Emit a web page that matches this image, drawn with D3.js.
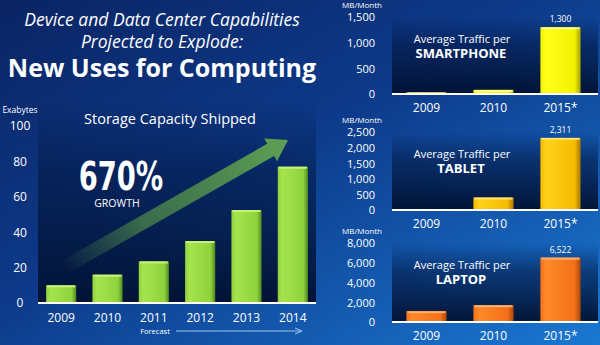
<!DOCTYPE html>
<html>
<head>
<meta charset="utf-8">
<script src="https://cdn.jsdelivr.net/npm/d3@7"></script>
<style>
  html, body { margin: 0; padding: 0; background: #0b2a6c; }
  svg { display: block; font-family: "Open Sans", "DejaVu Sans", sans-serif; }
</style>
</head>
<body>
<svg id="visualization" width="600" height="345"></svg>
<script>
// Storage capacity shipped, exabytes
const storageYears = ["2009", "2010", "2011", "2012", "2013", "2014"];
const storageExabytes = [10, 16, 23.5, 35, 52.5, 77];
const storageTicks = [0, 20, 40, 60, 80, 100];

// Average traffic per device, MB per month
const trafficYears = ["2009", "2010", "2015*"];
const smartphoneMB = [30, 80, 1300];
const tabletMB = [0, 400, 2311];
const laptopMB = [1100, 1700, 6522];
const smartphoneTicks = [0, 500, 1000, 1500];
const tabletTicks = [0, 500, 1000, 1500, 2000, 2500];
const laptopTicks = [0, 2000, 4000, 6000, 8000];

const svg = d3.select("#visualization");
const defs = svg.append("defs");

// Background: dark navy top-left to bright blue bottom-right
const bg = defs.append("linearGradient").attr("id", "bg")
  .attr("x1", "0").attr("y1", "0").attr("x2", "1").attr("y2", "1");
bg.append("stop").attr("offset", "0%").attr("stop-color", "#0a2463");
bg.append("stop").attr("offset", "45%").attr("stop-color", "#0d3a8a");
bg.append("stop").attr("offset", "100%").attr("stop-color", "#1a78d2");
svg.append("rect").attr("width", 600).attr("height", 345).attr("fill", "url(#bg)");

// Dark plot panels, fading in toward the axis
const panelGrad = defs.append("linearGradient").attr("id", "panel")
  .attr("x1", "0").attr("y1", "0").attr("x2", "0").attr("y2", "1");
panelGrad.append("stop").attr("offset", "0%").attr("stop-color", "#021640").attr("stop-opacity", 0);
panelGrad.append("stop").attr("offset", "35%").attr("stop-color", "#021640").attr("stop-opacity", 0.55);
panelGrad.append("stop").attr("offset", "100%").attr("stop-color", "#01102f").attr("stop-opacity", 0.95);

// Bar gradients: lit face with a darker right edge
function barGradient(id, light, mid, dark) {
  const g = defs.append("linearGradient").attr("id", id)
    .attr("x1", "0").attr("y1", "0").attr("x2", "1").attr("y2", "0");
  g.append("stop").attr("offset", "0%").attr("stop-color", mid);
  g.append("stop").attr("offset", "15%").attr("stop-color", light);
  g.append("stop").attr("offset", "85%").attr("stop-color", mid);
  g.append("stop").attr("offset", "100%").attr("stop-color", dark);
}
barGradient("green", "#a6e44f", "#8ed23c", "#4f8a1e");
barGradient("yellow", "#ffff1a", "#f2f200", "#a8a000");
barGradient("gold", "#ffd21a", "#f5bb00", "#a87800");
barGradient("orange", "#ff8a2a", "#f57018", "#a84808");

function drawBars(g, data, x, y, fill, top) {
  g.selectAll(".bar").data(data).enter().append("rect")
    .attr("x", d => x(d.year))
    .attr("y", d => y(d.value))
    .attr("width", x.bandwidth())
    .attr("height", d => y(0) - y(d.value))
    .attr("fill", `url(#${fill})`);
  // light top edge
  g.selectAll(".cap").data(data.filter(d => d.value > 0)).enter().append("rect")
    .attr("x", d => x(d.year) + 1)
    .attr("y", d => y(d.value))
    .attr("width", x.bandwidth() - 2)
    .attr("height", d => Math.min(2, y(0) - y(d.value)))
    .attr("fill", top);
}

// ---- Title ----
const title = svg.append("g").attr("fill", "white").attr("text-anchor", "middle");
title.append("text").attr("x", 162).attr("y", 26)
  .style("font-size", "17.5px").style("font-style", "italic")
  .text("Device and Data Center Capabilities");
title.append("text").attr("x", 162).attr("y", 48)
  .style("font-size", "17.5px").style("font-style", "italic")
  .text("Projected to Explode:");
title.append("text").attr("x", 162).attr("y", 77)
  .style("font-size", "25px").style("font-weight", "bold")
  .text("New Uses for Computing");

// ---- Storage capacity chart ----
const sx = d3.scaleBand().domain(storageYears).range([38, 316]).paddingInner(0.35).paddingOuter(0.175);
const sy = d3.scaleLinear().domain([0, 100]).range([303, 126]);

svg.append("rect").attr("x", 38).attr("y", 100).attr("width", 278).attr("height", 203)
  .attr("fill", "url(#panel)");

svg.append("text").attr("x", 20).attr("y", 113).attr("text-anchor", "middle")
  .attr("fill", "white").style("font-size", "8.5px").text("Exabytes");

svg.append("g")
  .attr("transform", "translate(31,0)")
  .call(d3.axisLeft(sy).tickValues(storageTicks).tickSize(0).tickPadding(0))
  .call(g => g.select(".domain").remove())
  .selectAll("text")
  .attr("x", -11)
  .attr("text-anchor", "middle")
  .attr("fill", "white")
  .style("font-size", "12px")
  .style("font-family", "'Open Sans', sans-serif");

svg.append("text").attr("x", 170).attr("y", 124).attr("text-anchor", "middle")
  .attr("fill", "white").style("font-size", "14.5px").text("Storage Capacity Shipped");

// Growth arrow
const arrowGrad = defs.append("linearGradient").attr("id", "arrow")
  .attr("gradientUnits", "userSpaceOnUse")
  .attr("x1", 63).attr("y1", 268).attr("x2", 288).attr("y2", 140);
arrowGrad.append("stop").attr("offset", "0%").attr("stop-color", "#5c9d48").attr("stop-opacity", 0);
arrowGrad.append("stop").attr("offset", "35%").attr("stop-color", "#5c9d48").attr("stop-opacity", 0.6);
arrowGrad.append("stop").attr("offset", "100%").attr("stop-color", "#64a650").attr("stop-opacity", 0.95);
{
  const x0 = 63, y0 = 268, x1 = 288, y1 = 140;
  const len = Math.hypot(x1 - x0, y1 - y0);
  const ux = (x1 - x0) / len, uy = (y1 - y0) / len;
  const px = -uy, py = ux;
  const hw = 7, headW = 13, headL = 20;
  const bx = x1 - ux * headL, by = y1 - uy * headL;
  const pts = [
    [x0 + px * hw, y0 + py * hw],
    [bx + px * hw, by + py * hw],
    [bx + px * headW, by + py * headW],
    [x1, y1],
    [bx - px * headW, by - py * headW],
    [bx - px * hw, by - py * hw],
    [x0 - px * hw, y0 - py * hw]
  ];
  svg.append("path").attr("d", d3.line()(pts) + "Z").attr("fill", "url(#arrow)");
}

const storageData = storageYears.map((year, i) => ({ year, value: storageExabytes[i] }));
drawBars(svg.append("g"), storageData, sx, sy, "green", "#c8f27a");

svg.append("line").attr("x1", 38).attr("x2", 316).attr("y1", 303).attr("y2", 303)
  .attr("stroke", "white").attr("stroke-width", 2);

svg.append("g")
  .attr("transform", "translate(0,303)")
  .call(d3.axisBottom(sx).tickSize(0).tickPadding(0))
  .call(g => g.select(".domain").remove())
  .selectAll("text")
  .attr("y", 19)
  .attr("dy", 0)
  .attr("fill", "white")
  .style("font-size", "12px")
  .style("font-family", "'Open Sans', sans-serif");

// Big growth callout, squeezed horizontally
svg.append("text").attr("x", 0).attr("y", 0).attr("text-anchor", "middle")
  .attr("fill", "white")
  .attr("transform", "translate(121,190) scale(0.78,1)")
  .style("font-family", "'Liberation Sans Narrow', 'DejaVu Sans Condensed', 'Open Sans', sans-serif")
  .style("font-weight", "bold").style("font-size", "39px")
  .text("670%");
svg.append("text").attr("x", 117).attr("y", 207).attr("text-anchor", "middle")
  .attr("fill", "white").style("font-size", "10.5px").text("GROWTH");

// Forecast marker
svg.append("text").attr("x", 155).attr("y", 334).attr("text-anchor", "middle")
  .attr("fill", "white").style("font-size", "7.5px").text("Forecast");
svg.append("line").attr("x1", 176).attr("x2", 300).attr("y1", 331).attr("y2", 331)
  .attr("stroke", "#9ec8f0").attr("stroke-width", 1);
svg.append("path").attr("d", "M295,328L302,331L295,334")
  .attr("fill", "none").attr("stroke", "#9ec8f0").attr("stroke-width", 1);

// ---- Traffic panels ----
const panels = [
  { name: "SMARTPHONE", values: smartphoneMB, ticks: smartphoneTicks, base: 94, top: 17, fill: "yellow", cap: "#ffff80" },
  { name: "TABLET", values: tabletMB, ticks: tabletTicks, base: 210, top: 132, fill: "gold", cap: "#ffe070" },
  { name: "LAPTOP", values: laptopMB, ticks: laptopTicks, base: 322, top: 243, fill: "orange", cap: "#ffb070" }
];

panels.forEach(p => {
  const g = svg.append("g");
  const tx = d3.scaleBand().domain(trafficYears).range([393, 594]).paddingInner(0.4).paddingOuter(0.2);
  const ty = d3.scaleLinear().domain([0, d3.max(p.ticks)]).range([p.base, p.top]);

  g.append("rect").attr("x", 392).attr("y", p.top).attr("width", 206).attr("height", p.base - p.top)
    .attr("fill", "url(#panel)");

  g.append("text").attr("x", 362).attr("y", p.top - 9).attr("text-anchor", "middle")
    .attr("fill", "white").style("font-size", "8px").text("MB/Month");

  g.append("g")
    .attr("transform", "translate(375,0)")
    .call(d3.axisLeft(ty).tickValues(p.ticks).tickSize(0).tickPadding(0).tickFormat(d3.format(",")))
    .call(a => a.select(".domain").remove())
    .selectAll("text")
    .attr("dy", "0.36em")
    .attr("fill", "white")
    .style("font-size", "11px")
    .style("font-family", "'Open Sans', sans-serif");

  g.append("text").attr("x", 462).attr("y", ty(p.ticks[p.ticks.length - 1] * 0.72) + 4)
    .attr("text-anchor", "middle").attr("fill", "white").style("font-size", "11px")
    .text("Average Traffic per");
  g.append("text").attr("x", 461).attr("y", ty(p.ticks[p.ticks.length - 1] * 0.72) + 19)
    .attr("text-anchor", "middle").attr("fill", "white").style("font-size", "13px")
    .style("font-weight", "bold").text(p.name);

  const data = trafficYears.map((year, i) => ({ year, value: p.values[i] }));
  drawBars(g, data, tx, ty, p.fill, p.cap);

  // value label on the projected bar
  const last = data[data.length - 1];
  g.append("text").attr("x", tx(last.year) + tx.bandwidth() / 2).attr("y", ty(last.value) - 5)
    .attr("text-anchor", "middle").attr("fill", "white").style("font-size", "8.5px")
    .text(d3.format(",")(last.value));

  g.append("line").attr("x1", 392).attr("x2", 598).attr("y1", p.base).attr("y2", p.base)
    .attr("stroke", "white").attr("stroke-width", 2);

  g.append("g")
    .attr("transform", `translate(0,${p.base})`)
    .call(d3.axisBottom(tx).tickSize(0).tickPadding(0))
    .call(a => a.select(".domain").remove())
    .selectAll("text")
    .attr("y", 18)
    .attr("dy", 0)
    .attr("fill", "white")
    .style("font-size", "12px")
    .style("font-family", "'Open Sans', sans-serif");
});
</script>
</body>
</html>
